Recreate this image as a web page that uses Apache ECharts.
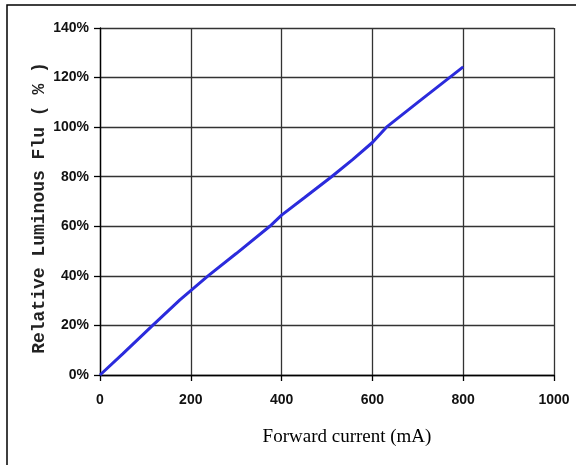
<!DOCTYPE html>
<html>
<head>
<meta charset="utf-8">
<script src="https://cdn.jsdelivr.net/npm/echarts@6/dist/echarts.min.js"></script>
<style>
html,body{margin:0;padding:0;background:#fff;}
#c{width:576px;height:465px;}
</style>
</head>
<body>
<div id="c"></div>
<script>
var currentMA = [0, 50, 116, 176, 238, 300, 374, 400, 450, 510, 557, 600, 631, 700, 800];
var relFlux   = [0, 8.5, 20, 30.3, 40, 49, 60, 64.5, 71.5, 80, 87, 93.8, 100, 110, 124.3];
var xTicks = [0, 200, 400, 600, 800, 1000];
var yTicks = [0, 20, 40, 60, 80, 100, 120, 140];

var chart = echarts.init(document.getElementById('c'), null, {renderer:'canvas'});
var pts = currentMA.map(function(x, i){ return [x, relFlux[i]]; });
chart.setOption({
  animation: false,
  backgroundColor: '#fff',
  graphic: [{
    type: 'rect',
    shape: {x: 7, y: 5, width: 600, height: 500},
    style: {fill: 'none', stroke: '#000', lineWidth: 1.5},
    silent: true, z: 0
  }],
  grid: {left: 100, right: 22, top: 28, bottom: 90, containLabel: false},
  xAxis: {
    type: 'value',
    min: xTicks[0], max: xTicks[xTicks.length-1], interval: 200,
    name: 'Forward current (mA)',
    nameLocation: 'middle',
    nameGap: 53,
    nameMoveOverlap: false,
    nameTextStyle: {fontFamily: 'Liberation Serif', fontSize: 19, color: '#000', padding: [0, 0, 0, 40]},
    axisLine: {show: true, lineStyle: {color: '#000', width: 1.3}},
    axisTick: {show: true, length: 6, lineStyle: {color: '#000', width: 1.3}},
    axisLabel: {margin: 18, formatter: function(v){ return String(v); }, fontFamily: 'Liberation Sans', fontWeight: 'bold', fontSize: 14, color: '#111'},
    splitLine: {show: true, lineStyle: {color: '#333', width: 1.3}}
  },
  yAxis: {
    type: 'value',
    min: yTicks[0], max: yTicks[yTicks.length-1], interval: 20,
    name: 'Relative Luminous Flu ( % )',
    nameLocation: 'middle',
    nameGap: 52,
    nameMoveOverlap: false,
    nameTextStyle: {fontFamily: 'Liberation Mono', fontWeight: 'bold', fontSize: 18, color: '#222', padding: [0, 13, 0, 0]},
    axisLine: {show: true, lineStyle: {color: '#000', width: 1.3}},
    axisTick: {show: true, length: 6, lineStyle: {color: '#000', width: 1.3}},
    axisLabel: {margin: 11, formatter: '{value}%', fontFamily: 'Liberation Sans', fontWeight: 'bold', fontSize: 14, color: '#111'},
    splitLine: {show: true, lineStyle: {color: '#333', width: 1.3}}
  },
  series: [{
    type: 'line',
    data: pts,
    showSymbol: false,
    smooth: false,
    lineStyle: {color: '#2b2bdc', width: 3},
    z: 5
  }]
});
</script>
</body>
</html>
